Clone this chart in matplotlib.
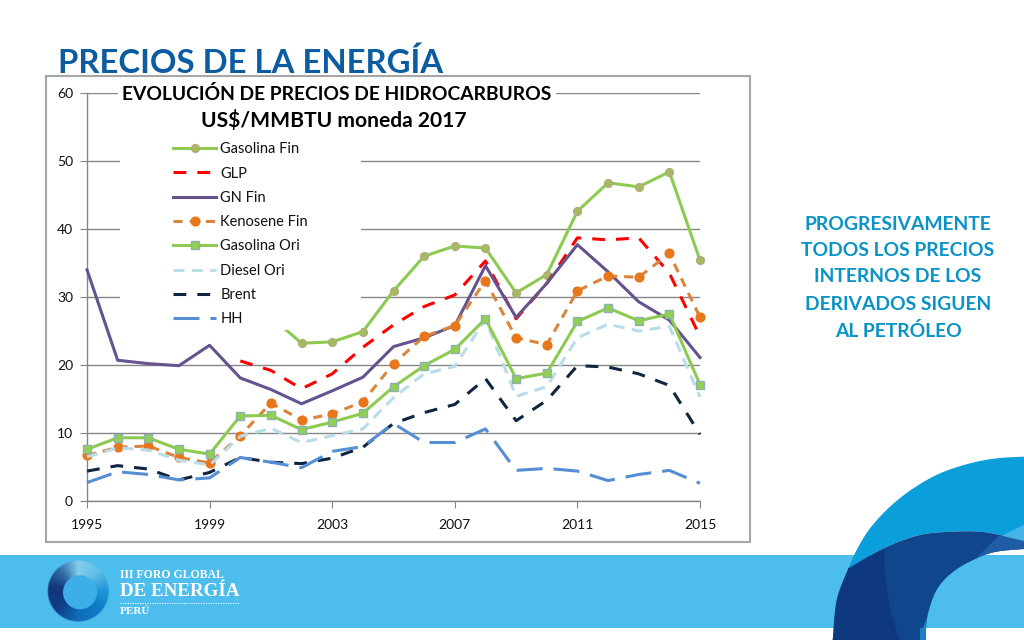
import matplotlib
matplotlib.use("Agg")
import matplotlib.pyplot as plt
import numpy as np
from matplotlib.patches import Rectangle, Polygon, Circle

years = list(range(1995, 2016))
gasolina_fin = [None]*6 + [27.1, 23.2, 23.4, 24.9, 30.9, 36.0, 37.5, 37.2, 30.6, 33.3, 42.6, 46.8, 46.2, 48.4, 35.4]
glp = [None]*5 + [20.6, 19.2, 16.5, 18.7, 22.6, 25.9, 28.6, 30.3, 35.3, 26.8, 32.0, 38.7, 38.4, 38.7, 33.5, 24.2]
gn_fin = [34.0, 20.7, 20.2, 19.9, 22.9, 18.1, 16.4, 14.3, 16.2, 18.2, 22.7, 24.0, 25.8, 34.6, 27.0, 32.0, 37.7, 33.7, 29.3, 26.6, 21.1]
kerosene = [6.7, 7.9, 8.1, 6.4, 5.6, 9.6, 14.4, 11.9, 12.8, 14.6, 20.2, 24.2, 25.8, 32.4, 24.0, 23.0, 30.9, 33.1, 32.9, 36.4, 27.0]
gasolina_ori = [7.6, 9.3, 9.3, 7.6, 6.9, 12.5, 12.6, 10.5, 11.6, 12.9, 16.8, 19.9, 22.3, 26.8, 18.0, 18.8, 26.4, 28.4, 26.5, 27.5, 17.1]
diesel = [6.5, 7.8, 7.5, 6.0, 5.3, 9.5, 10.7, 8.6, 9.6, 10.6, 15.2, 18.7, 19.8, 26.7, 15.4, 16.8, 24.0, 26.0, 25.0, 25.7, 15.3]
brent = [4.4, 5.2, 4.7, 3.1, 4.2, 6.4, 5.7, 5.5, 6.3, 7.9, 11.4, 13.0, 14.2, 18.0, 11.8, 14.8, 19.9, 19.7, 18.7, 17.0, 9.8]
hh = [2.7, 4.3, 3.9, 3.1, 3.4, 6.4, 5.7, 4.9, 7.3, 8.0, 11.4, 8.6, 8.6, 10.6, 4.5, 4.8, 4.4, 3.0, 3.9, 4.5, 2.6]
y_ticks = [0, 10, 20, 30, 40, 50, 60]
x_ticks = [1995, 1999, 2003, 2007, 2011, 2015]

W, H = 1024, 640
FONT = "Lato"
plt.rcParams["font.family"] = [FONT, "DejaVu Sans"]
fig = plt.figure(figsize=(W/100, H/100), dpi=100, facecolor="white")

# slide decoration, pixel coordinates
bg = fig.add_axes([0, 0, 1, 1], zorder=0)
bg.axis("off")
BAND = "#4DBDEE"
bg.add_patch(Rectangle((0, 555), W, 73, fc=BAND, ec="none"))

def smooth(pts, n=12):
    """Catmull-Rom outline through decoration points given in zoom-crop units."""
    p = np.array([(820 + x/3, 450 + y/3) for x, y in pts], float)
    q = np.vstack([p[0], p, p[-1]])
    out = []
    for i in range(1, len(q) - 2):
        for t in np.linspace(0, 1, n, endpoint=False):
            out.append(0.5*((2*q[i]) + (q[i+1]-q[i-1])*t + (2*q[i-1]-5*q[i]+4*q[i+1]-q[i+2])*t*t
                            + (3*q[i]-q[i-1]-3*q[i+1]+q[i+2])*t**3))
    out.append(p[-1])
    return out

outer_top = smooth([(85,355),(110,300),(150,235),(210,170),(280,115),(360,70),(450,40),(530,25),(612,20)])
outer_low = smooth([(38,570),(50,450),(85,355)])
seam = smooth([(85,355),(190,295),(300,255),(400,245),(480,245),(540,255),(612,272)])
inner = smooth([(612,297),(530,305),(470,325),(400,365),(350,420),(322,500),(315,570)])
fold = smooth([(192,297),(198,400),(215,490),(238,570)])

bg.add_patch(Polygon(outer_top + [(1024, 549), (1024, 560)] + seam[::-1], fc="#0A9FDB", ec="none"))
bg.add_patch(Polygon(seam + inner + [(820 + 300/3, 640)] + outer_low[:1], fc="#10468B", ec="none"))
bg.add_patch(Polygon(outer_low + seam[:1] + [(820+192/3, 450+297/3)] + fold + [(820+38/3, 640)], fc="#0E397F", ec="none"))
bg.add_patch(Polygon(smooth([(540,255),(612,272)]) + inner[:26], fc="#1F5EA6", ec="none"))
bg.add_patch(Polygon(smooth([(545,257),(612,225)]) + [(1024, 450+273/3)], fc="#45B4E6", ec="none"))
bg.add_patch(Polygon(smooth([(300,570),(308,535)]) + smooth([(322,500),(315,570)]), fc="#1D7FC4", ec="none"))
bg.add_patch(Rectangle((820+300/3, 628), 6, 12, fc="#1D7FC4", ec="none"))

# logo: ring shaded by angle (image), with hole on top
xx, yy = np.meshgrid(np.linspace(46, 110, 129), np.linspace(559, 623, 129))
ang = np.degrees(np.arctan2(591 - yy, xx - 78.3)) % 360
stops = [0, 45, 90, 130, 170, 220, 270, 320, 360]
cols = np.array([(30,150,215), (95,190,230), (130,205,235), (50,110,170), (18,55,125), (18,60,135), (15,110,185), (14,125,195), (30,150,215)]) / 255
rgb = np.stack([np.interp(ang, stops, cols[:, i]) for i in range(3)], axis=-1)
rr = np.hypot(xx - 78.3, yy - 591)
alpha = np.clip(30.7 - rr + 0.5, 0, 1)
bg.imshow(np.dstack([rgb, alpha]), extent=(46, 110, 623, 559), aspect="auto", interpolation="bilinear", zorder=2)
bg.add_patch(Circle((80, 592.3), 17, fc="#3DAFE6", ec="none", zorder=3))
SERIF = "Liberation Serif"
bg.text(120, 575, "III FORO GLOBAL", color="white", family=SERIF, weight="bold", fontsize=8.5, va="center", zorder=3)
bg.text(120, 592, "DE ENERGÍA", color="white", family=SERIF, weight="bold", fontsize=13.7, va="center", zorder=3)
bg.plot([120, 239], [602.5, 602.5], color="white", lw=0.8, ls=(0, (1, 1.2)), zorder=3)
bg.text(120, 612, "PERÚ", color="white", family=SERIF, weight="bold", fontsize=8, va="center", zorder=3)

# title and note
bg.text(58, 73, "PRECIOS DE LA ENERGÍA", color="#0B5CA0", weight="bold", fontsize=23.7, va="baseline")
note = ["PROGRESIVAMENTE", "TODOS LOS PRECIOS", "INTERNOS DE LOS", "DERIVADOS SIGUEN", "AL PETRÓLEO"]
for t, yy_ in zip(note, [224, 250, 277, 304, 331]):
    bg.text(898, yy_, t, color="#0A93C6", weight="bold", fontsize=13.9, ha="center", va="center")

# chart frame
bg.add_patch(Rectangle((45.5, 75.5), 704.5, 466, fc="white", ec="#A6A6A6", lw=1.5))
bg.set_xlim(0, W); bg.set_ylim(H, 0)

# chart
L, R, T, B = 87, 700, 93, 501
ax = fig.add_axes([L/W, 1-B/H, (R-L)/W, (B-T)/H], zorder=1)
ax.patch.set_alpha(0)
ax.set_xlim(1995, 2015); ax.set_ylim(0, 60)
AX = "#868686"
for s in ("top", "right"):
    ax.spines[s].set_visible(False)
for s in ("left", "bottom"):
    ax.spines[s].set_color(AX); ax.spines[s].set_linewidth(1.0)
ax.set_xticks(x_ticks); ax.set_yticks(y_ticks)
ax.tick_params(axis="both", color=AX, length=5, width=0.8, labelsize=10, labelcolor="#111111")
ax.tick_params(axis="x", pad=8)
ax.tick_params(axis="y", pad=5)
ax.grid(axis="y", color=AX, lw=1.0)
ax.set_axisbelow(True)

LW = 2.2
def clean(v):
    return [float("nan") if a is None else a for a in v]

ax.plot(years, clean(gasolina_fin), color="#8CCB50", lw=LW, marker="o", ms=5.6, mfc="#A3BC60", mec="#B5A97E", mew=1, label="Gasolina Fin", clip_on=False, zorder=3)
ax.plot(years, clean(glp), color="#FF0000", lw=LW, ls=(0, (4.2, 3.6)), label="GLP", clip_on=False, zorder=3.1)
ax.plot(years, clean(gn_fin), color="#65538F", lw=LW, label="GN Fin", clip_on=False, zorder=3.2)
ax.plot(years, clean(kerosene), color="#D9853E", lw=LW, ls=(0, (3, 2.3)), marker="o", ms=6.3, mfc="#E8761A", mec="#E8761A", label="Kenosene Fin", clip_on=False, zorder=3.3)
ax.plot(years, clean(gasolina_ori), color="#8CCB50", lw=LW, marker="s", ms=5.8, mfc="#92D050", mec="#8FB0B0", mew=1, label="Gasolina Ori", clip_on=False, zorder=3.4)
ax.plot(years, clean(diesel), color="#B7DDE8", lw=LW, ls=(0, (3.6, 2.4)), label="Diesel Ori", clip_on=False, zorder=3.35)
ax.plot(years, clean(brent), color="#10253F", lw=LW, ls=(0, (4.2, 3.6)), label="Brent", clip_on=False, zorder=3.6)
ax.plot(years, clean(hh), color="#558ED5", lw=LW, ls=(0, (8.5, 3.6)), label="HH", clip_on=False, zorder=3.7)

# opaque areas behind chart title and legend
ax.add_patch(Rectangle((118, 85), 438, 50, transform=bg.transData, fc="white", ec="none", zorder=5, clip_on=False))
ax.add_patch(Rectangle((120, 130), 241, 200, transform=bg.transData, fc="white", ec="none", zorder=5, clip_on=False))

fig.text(336.5/W, 1-93.5/H, "EVOLUCIÓN DE PRECIOS DE HIDROCARBUROS", ha="center", va="center", weight="bold", fontsize=13.9, color="black", zorder=7)
fig.text(334/W, 1-121/H, "US$/MMBTU moneda 2017", ha="center", va="center", weight="bold", fontsize=15.1, color="black", zorder=7)

leg = ax.legend(loc="upper left", bbox_to_anchor=((173-7)/W, 1-(135)/H), bbox_transform=fig.transFigure,
                frameon=False, fontsize=10.5, labelspacing=0.705, handlelength=2.95, handletextpad=0.27,
                borderpad=0, borderaxespad=0.5, labelcolor="#111111")
leg.set_zorder(8)

fig.savefig("out.png", dpi=100)
